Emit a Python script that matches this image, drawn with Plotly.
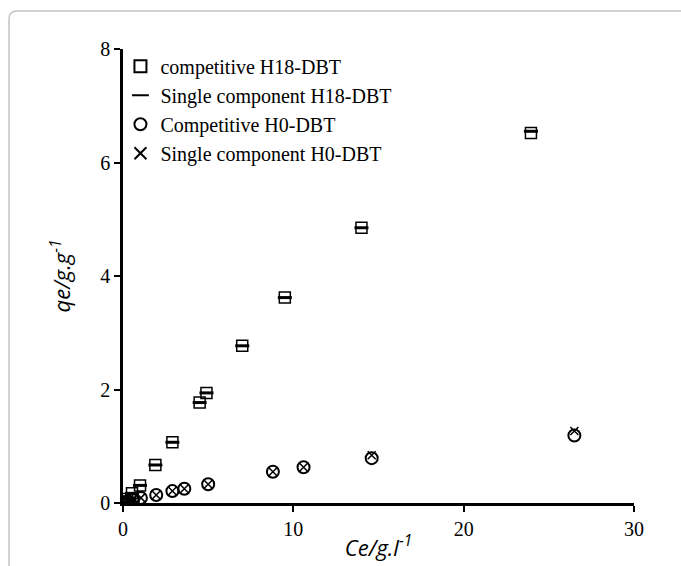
import plotly.graph_objects as go

# Competitive H18-DBT
comp_h18_x = [0.1, 0.25, 0.53, 1.0, 1.9, 2.9, 4.5, 4.9, 7.0, 9.5, 14.0, 23.95]
comp_h18_y = [0.02, 0.07, 0.17, 0.31, 0.67, 1.07, 1.77, 1.94, 2.77, 3.62, 4.85, 6.52]
# Single component H18-DBT
sing_h18_x = [0.1, 0.25, 0.53, 1.0, 1.9, 2.9, 4.5, 4.9, 7.0, 9.5, 14.0, 23.95]
sing_h18_y = [0.02, 0.07, 0.17, 0.31, 0.67, 1.07, 1.77, 1.94, 2.77, 3.62, 4.85, 6.55]
# Competitive H0-DBT
comp_h0_x = [0.1, 0.3, 0.6, 1.05, 1.95, 2.9, 3.6, 5.0, 8.8, 10.6, 14.6, 26.5]
comp_h0_y = [0.01, 0.03, 0.06, 0.09, 0.14, 0.21, 0.25, 0.33, 0.55, 0.63, 0.79, 1.19]
# Single component H0-DBT
sing_h0_x = [0.1, 0.3, 0.6, 1.05, 1.95, 2.9, 3.6, 5.0, 8.8, 10.6, 14.6, 26.5]
sing_h0_y = [0.01, 0.03, 0.06, 0.09, 0.14, 0.21, 0.25, 0.33, 0.55, 0.63, 0.84, 1.27]

names = ["competitive H18-DBT", "Single component H18-DBT",
         "Competitive H0-DBT", "Single component H0-DBT"]

fig = go.Figure()
fig.add_trace(go.Scatter(x=comp_h18_x, y=comp_h18_y, mode="markers", name=names[0],
                         legendgroup="a",
                         marker=dict(symbol="square-open", size=11, color="black",
                                     line=dict(width=1.5, color="black"))))
fig.add_trace(go.Scatter(x=sing_h18_x, y=sing_h18_y, mode="markers", name=names[1],
                         legendgroup="b",
                         marker=dict(symbol="line-ew", size=10, color="black",
                                     line=dict(width=3, color="black"))))
fig.add_trace(go.Scatter(x=comp_h0_x, y=comp_h0_y, mode="markers", name=names[2],
                         legendgroup="c",
                         marker=dict(symbol="circle-open", size=12, color="black",
                                     line=dict(width=2, color="black"))))
fig.add_trace(go.Scatter(x=sing_h0_x, y=sing_h0_y, mode="markers", name=names[3],
                         legendgroup="d",
                         marker=dict(symbol="x-thin-open", size=8, color="black",
                                     line=dict(width=1.5, color="black"))))

L, R, T, B = 123, 47, 49, 63
W, H = 681, 566
pw, ph = W - L - R, H - T - B

def px(xp):
    return (xp - L) / pw

def py(yp):
    return (H - B - yp) / ph

x0, y0 = px(9), py(11)
x1, y1 = px(700), py(580)
rx = 8 / pw
ry = 8 / ph
path = (f"M {x0},{y1} L {x0},{y0 - ry} Q {x0},{y0} {x0 + rx},{y0} L {x1},{y0}")

fig.update_layout(
    width=W, height=H,
    margin=dict(l=L, r=R, t=T, b=B),
    paper_bgcolor="white", plot_bgcolor="white",
    showlegend=True,
    legend=dict(x=-0.005, y=1.005, xanchor="left", yanchor="top",
                font=dict(family="Liberation Serif", size=20, color="black"),
                bgcolor="rgba(0,0,0,0)", tracegroupgap=0, itemsizing="constant"),
    xaxis=dict(range=[0, 30], dtick=10, showgrid=False, zeroline=False,
               showline=True, linecolor="black", linewidth=2.5, automargin=False,
               ticks="outside", ticklen=6, tickwidth=2, tickcolor="black",
               tickfont=dict(family="Liberation Serif", size=20, color="black"),
               title=dict(text="<i>Ce/g.l<sup>-1</sup></i>", standoff=2,
                          font=dict(family="Open Sans", size=22, color="black"))),
    yaxis=dict(range=[0, 8], dtick=2, showgrid=False, zeroline=False,
               showline=True, linecolor="black", linewidth=2.5, automargin=False,
               ticks="outside", ticklen=6, tickwidth=2, tickcolor="black",
               tickfont=dict(family="Liberation Serif", size=20, color="black"),
               title=dict(text="<i>qe/g.g<sup>-1</sup></i>", standoff=24,
                          font=dict(family="Open Sans", size=22, color="black"))),
    shapes=[dict(type="path", xref="paper", yref="paper", path=path,
                 line=dict(color="#c4c4c4", width=1.5), layer="below")],
)

fig.write_html("out.html")
